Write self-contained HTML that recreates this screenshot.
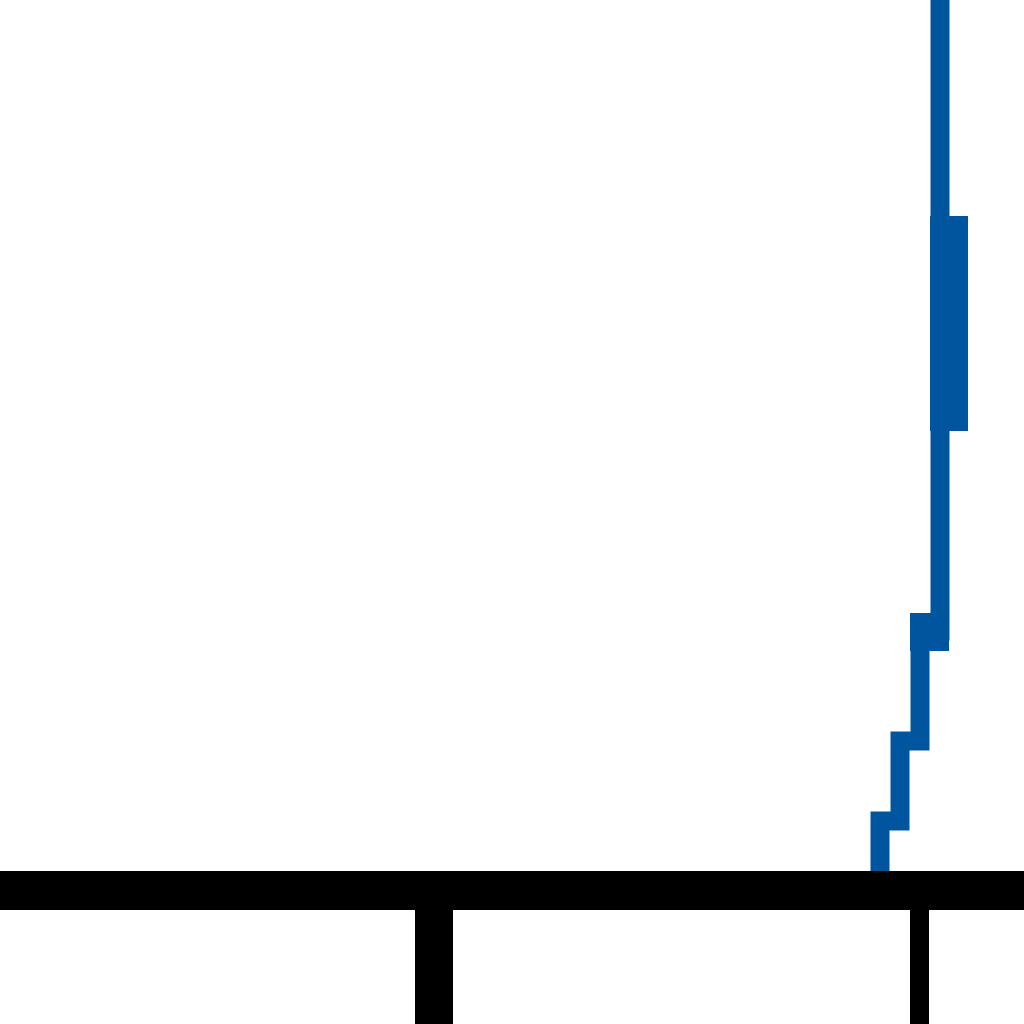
<!DOCTYPE html>
<html>
<head>
<meta charset="utf-8">
<style>
  html, body { margin: 0; padding: 0; background: #ffffff; }
  svg { display: block; }
</style>
</head>
<body>
<svg id="chart" width="1024" height="1024" viewBox="0 0 1024 1024" xmlns="http://www.w3.org/2000/svg">
  <rect x="0" y="0" width="1024" height="1024" fill="#ffffff"/>
  <g id="series"></g>
  <rect x="0" y="871" width="1024" height="39" fill="#000000"/>
  <rect x="415" y="910" width="38" height="114" fill="#000000"/>
  <rect x="910" y="910" width="19" height="114" fill="#000000"/>
</svg>
<script>
const bins = [0, 1, 2, 3];
const values = [2.5, 6.5, 12, 45];
const bandLow = [22];
const bandHigh = [32.75];
const thickStepIndex = [2];

function xScale(i) { return 880 + i * 20; }
function yScale(v) { return 871 - v * 20; }

const ns = "http://www.w3.org/2000/svg";
const g = document.getElementById("series");
const blue = "#00569e";

let d = "M" + xScale(bins[0]) + " " + yScale(0);
for (let i = 0; i < bins.length; i++) {
  const x = xScale(bins[i]);
  const y = yScale(values[i]);
  d += " L" + x + " " + y;
  if (i < bins.length - 1) d += " L" + xScale(bins[i + 1]) + " " + y;
}
const path = document.createElementNS(ns, "path");
path.setAttribute("d", d);
path.setAttribute("fill", "none");
path.setAttribute("stroke", blue);
path.setAttribute("stroke-width", "19");
path.setAttribute("stroke-linejoin", "miter");
path.setAttribute("stroke-linecap", "square");


g.appendChild(path);

for (let k = 0; k < thickStepIndex.length; k++) {
  const i = thickStepIndex[k];
  const r = document.createElementNS(ns, "rect");
  r.setAttribute("x", xScale(bins[i]) - 10);
  r.setAttribute("y", yScale(values[i]) - 18);
  r.setAttribute("width", xScale(bins[i + 1]) - xScale(bins[i]) + 19);
  r.setAttribute("height", 38);
  r.setAttribute("fill", blue);
  
  
  g.appendChild(r);
}

for (let k = 0; k < bandLow.length; k++) {
  const r = document.createElementNS(ns, "rect");
  const top = yScale(bandHigh[k]);
  const bot = yScale(bandLow[k]);
  r.setAttribute("x", xScale(bins[bins.length - 1]) - 10);
  r.setAttribute("y", top);
  r.setAttribute("width", 38);
  r.setAttribute("height", bot - top);
  r.setAttribute("fill", blue);
  
  
  g.appendChild(r);
}
</script>
</body>
</html>
